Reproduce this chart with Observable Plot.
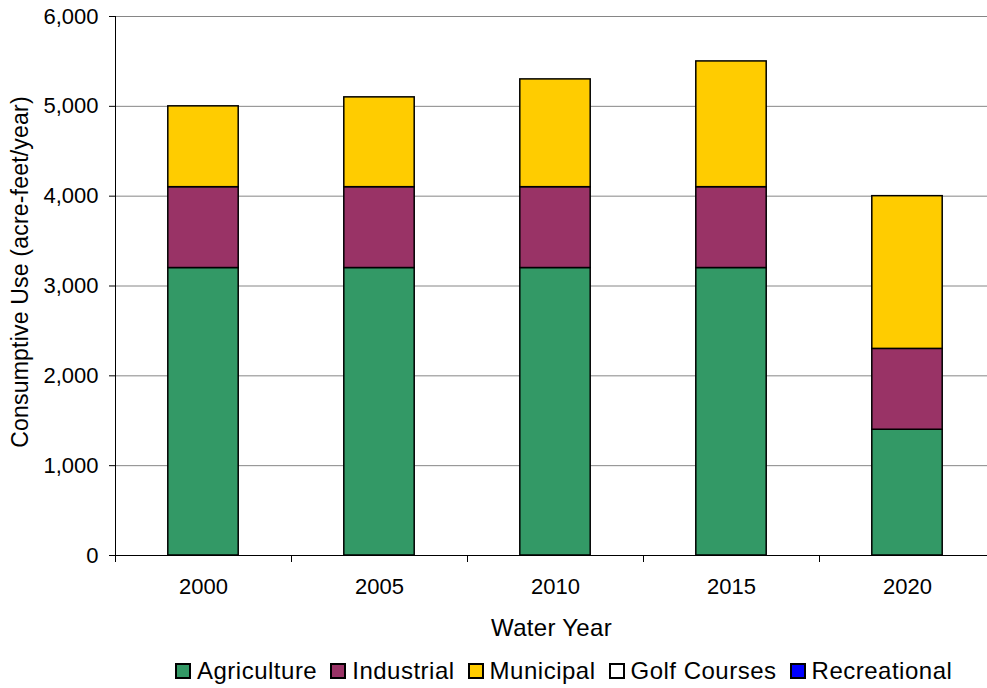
<!DOCTYPE html>
<html>
<head>
<meta charset="utf-8">
<script src="https://cdn.jsdelivr.net/npm/d3@7"></script>
<script src="https://cdn.jsdelivr.net/npm/@observablehq/plot@0.6"></script>
<style>
  html, body { margin: 0; padding: 0; background: #fff; }
  body { width: 987px; height: 688px; overflow: hidden; font-family: "Liberation Sans", Arial, sans-serif; }
  #legend { display: flex; align-items: center; padding-left: 175px; padding-top: 8px; height: 35px; font-size: 24px; letter-spacing: 0.5px; color: #000; }
  #legend .item { display: flex; align-items: center; margin-right: 13px; }
  #legend .sw { width: 16px; height: 16px; border: 2px solid #000; margin-right: 6px; box-sizing: border-box; }
</style>
</head>
<body>
<div id="chart"></div>
<div id="legend"></div>
<script>
// ---- data ----
const years = [2000, 2005, 2010, 2015, 2020];
const series = ["Agriculture", "Industrial", "Municipal", "Golf Courses", "Recreational"];
const colors = ["#339966", "#993366", "#FFCC00", "#FFFFFF", "#0000FF"];
const agriculture = [3200, 3200, 3200, 3200, 1400];
const industrial = [900, 900, 900, 900, 900];
const municipal = [900, 1000, 1200, 1400, 1700];
const golfCourses = [0, 0, 0, 0, 0];
const recreational = [0, 0, 0, 0, 0];
const yTicks = [0, 1000, 2000, 3000, 4000, 5000, 6000];

const values = [agriculture, industrial, municipal, golfCourses, recreational];
const rows = [];
series.forEach((s, si) => years.forEach((yr, yi) => rows.push({series: s, year: yr, value: values[si][yi]})));

const step = years[1] - years[0];
const half = step * 0.2;
const xDomain = [years[0] - step / 2, years[years.length - 1] + step / 2];
const boundaries = d3.range(years.length + 1).map(i => xDomain[0] + i * step);

const chart = Plot.plot({
  width: 987,
  height: 645,
  marginTop: 16,
  marginBottom: 90,
  marginLeft: 115,
  marginRight: 0,
  style: {fontFamily: "'Liberation Sans', Arial, sans-serif", fontSize: "22px", color: "#000", background: "#fff"},
  x: {type: "linear", domain: xDomain, range: [115, 995]},
  y: {domain: [0, 6000]},
  color: {domain: series, range: colors},
  marks: [
    Plot.gridY(yTicks, {stroke: "#868686", strokeOpacity: 1, strokeWidth: 1}),
    Plot.rectY(rows.filter(d => d.value > 0), {
      x1: d => d.year - half, x2: d => d.year + half, y: "value",
      fill: "series", stroke: "#000", strokeWidth: 1.5, order: series
    }),
    Plot.ruleX([xDomain[0]], {stroke: "#000", strokeWidth: 1}),
    Plot.ruleY([0], {stroke: "#000", strokeWidth: 1}),
    Plot.axisY({ticks: yTicks, tickFormat: d3.format(","), tickSize: 6, tickPadding: 11,
      label: "Consumptive Use (acre-feet/year)", labelAnchor: "center", labelArrow: "none", labelOffset: 104}),
    Plot.axisX({ticks: boundaries, tickFormat: () => "", tickSize: 7, label: null}),
    Plot.axisX({ticks: years, tickFormat: d => String(d), tickSize: 0, tickPadding: 23,
      label: "Water Year", labelAnchor: "center", labelArrow: "none", labelOffset: 80})
  ]
});
document.getElementById("chart").appendChild(chart);

// label text styling
d3.select(chart).selectAll('[aria-label="x-axis label"] text')
  .style("font-size", "24px").style("letter-spacing", "0.3px");
d3.select(chart).selectAll('[aria-label="y-axis label"] text')
  .style("font-size", "23px").style("letter-spacing", "0.2px").attr("dx", 14);

const legend = document.getElementById("legend");
series.forEach((s, i) => {
  const item = document.createElement("div");
  item.className = "item";
  const sw = document.createElement("span");
  sw.className = "sw";
  sw.style.background = colors[i];
  const t = document.createElement("span");
  t.textContent = s;
  item.appendChild(sw); item.appendChild(t);
  legend.appendChild(item);
});
</script>
</body>
</html>
